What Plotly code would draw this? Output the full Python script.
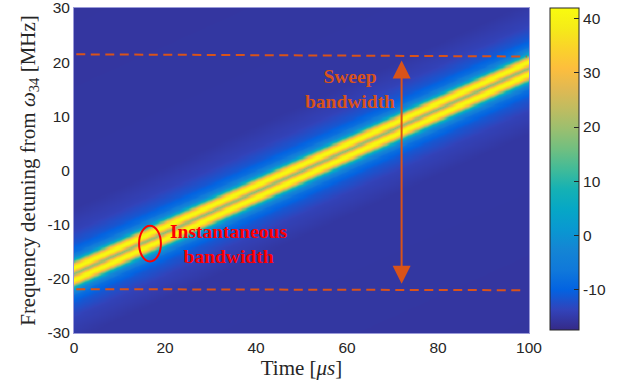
import numpy as np
import plotly.graph_objects as go

# ---- data ----
time_us = np.linspace(0, 100, 201)           # x grid (µs)
freq_mhz = np.linspace(-30, 30, 301)         # y grid (MHz)
chirp_start_mhz = -19.0                      # chirp centre at t = 0
chirp_end_mhz = 19.0                         # chirp centre at t = 100 µs
# cross-section of the chirp band: offset from chirp centre (MHz) -> level (dB)
profile_offset = [0.0, 0.35, 0.7, 1.05, 1.4, 1.8, 2.2, 2.6, 3.1, 4.0, 5.5, 8.0, 12.0, 60.0]
profile_level = [18, 26, 37, 42, 40, 31, 17, 6, -2, -8, -11.5, -14, -15.5, -15.8]
sweep_top = [21.45, 21.05]                   # dashed line, left/right (MHz)
sweep_bottom = [-21.9, -22.1]
arrow_t = 72.0
arrow_span = [20.3, -21.2]
ellipse_c = [16.7, -13.5]
ellipse_r = [2.4, 3.3]
x_ticks = [0, 20, 40, 60, 80, 100]
y_ticks = [-30, -20, -10, 0, 10, 20, 30]
y_tick_labels = ['-30', '-20', '-10', '0', '10', '20', '30']
cb_ticks = [-10, 0, 10, 20, 30, 40]
cb_tick_labels = ['-10', '0', '10', '20', '30', '40']

T, F = np.meshgrid(time_us, freq_mhz)
centre = chirp_start_mhz + (chirp_end_mhz - chirp_start_mhz) * T / 100.0
dist = np.abs(F - centre)
Z = np.interp(dist, profile_offset, profile_level)

parula = [[0.2081, 0.1663, 0.5292], [0.1959, 0.2645, 0.7279], [0.0117, 0.3875, 0.8820],
          [0.0629, 0.4737, 0.8554], [0.0793, 0.5200, 0.8312], [0.0343, 0.5966, 0.8199],
          [0.0228, 0.6535, 0.7768], [0.0843, 0.6928, 0.7062], [0.2586, 0.7317, 0.5954],
          [0.4420, 0.7481, 0.5033], [0.6098, 0.7473, 0.4337], [0.7525, 0.7384, 0.3768],
          [0.8824, 0.7274, 0.3217], [0.9937, 0.7455, 0.2403], [0.9788, 0.8271, 0.1633],
          [0.9598, 0.9218, 0.0948], [0.9763, 0.9831, 0.0538]]
n = len(parula)
colorscale = [[i / (n - 1), 'rgb(%d,%d,%d)' % tuple(int(round(c * 255)) for c in col)]
              for i, col in enumerate(parula)]

fig = go.Figure()
fig.add_trace(go.Heatmap(
    x=time_us, y=freq_mhz, z=Z, colorscale=colorscale, zmin=-17.5, zmax=42,
    zsmooth='best',
    colorbar=dict(
        x=1.046, xanchor='left', xpad=0, ypad=0, y=1.0, yanchor='top',
        len=0.99, lenmode='fraction', thickness=29, thicknessmode='pixels',
        outlinewidth=1, outlinecolor='#262626',
        tickvals=cb_ticks, ticktext=cb_tick_labels,
        ticks='inside', ticklen=5, tickcolor='#262626',
        tickfont=dict(family='Liberation Sans, Arial', size=15.5, color='#262626'),
    ),
))

orange = '#D95319'
fig.add_shape(type='line', x0=0.5, x1=99.5, y0=sweep_top[0], y1=sweep_top[1],
              line=dict(color=orange, width=2, dash='9px,5.5px'))
fig.add_shape(type='line', x0=0.5, x1=99.0, y0=sweep_bottom[0], y1=sweep_bottom[1],
              line=dict(color=orange, width=2, dash='9px,5.5px'))
fig.add_shape(type='circle', x0=ellipse_c[0] - ellipse_r[0], x1=ellipse_c[0] + ellipse_r[0],
              y0=ellipse_c[1] - ellipse_r[1], y1=ellipse_c[1] + ellipse_r[1],
              line=dict(color='#FF0000', width=2))

fig.add_annotation(x=arrow_t, y=arrow_span[0], ax=arrow_t, ay=arrow_span[1],
                   xref='x', yref='y', axref='x', ayref='y', text='',
                   showarrow=True, arrowhead=2, arrowside='end+start',
                   arrowsize=1.8, arrowwidth=2, arrowcolor=orange, standoff=0, startstandoff=0)

fig.add_annotation(x=60.7, y=15.0, xref='x', yref='y', showarrow=False,
                   text='<b>Sweep<br>bandwidth</b>',
                   font=dict(family='Liberation Serif, Times New Roman', size=19.5, color=orange))
fig.add_annotation(x=34.0, y=-13.6, xref='x', yref='y', showarrow=False,
                   text='<b>Instantaneous<br>bandwidth</b>',
                   font=dict(family='Liberation Serif, Times New Roman', size=19.5, color='#FF0000'))

axis_font = dict(family='Liberation Sans, Arial', size=15.5, color='#262626')
title_font = dict(family='Liberation Serif, Times New Roman', size=21, color='#262626')
fig.update_xaxes(range=[0, 100], tickvals=x_ticks, ticks='', tickfont=axis_font,
                 showline=True, linecolor='#9a9ad8', linewidth=1, mirror=True,
                 showgrid=False, zeroline=False, automargin=False,
                 ticklabeloverflow='allow',
                 title=dict(text='Time [<i>μs</i>]', font=title_font, standoff=4))
fig.update_yaxes(range=[-30, 30], tickvals=y_ticks, ticktext=y_tick_labels, ticks='',
                 tickfont=axis_font,
                 showline=True, linecolor='#9a9ad8', linewidth=1, mirror=True,
                 showgrid=False, zeroline=False, automargin=False,
                 ticklabeloverflow='allow',
                 title=dict(text='Frequency detuning from <i>ω</i><sub>34</sub> [MHz]',
                            font=title_font, standoff=6))
fig.update_layout(width=623, height=387, margin=dict(l=74, r=94, t=8, b=54, autoexpand=False),
                  paper_bgcolor='white', plot_bgcolor='white', showlegend=False)
fig.write_html('out.html', config={'displayModeBar': False},
               post_script="document.body.style.margin='0px';")
